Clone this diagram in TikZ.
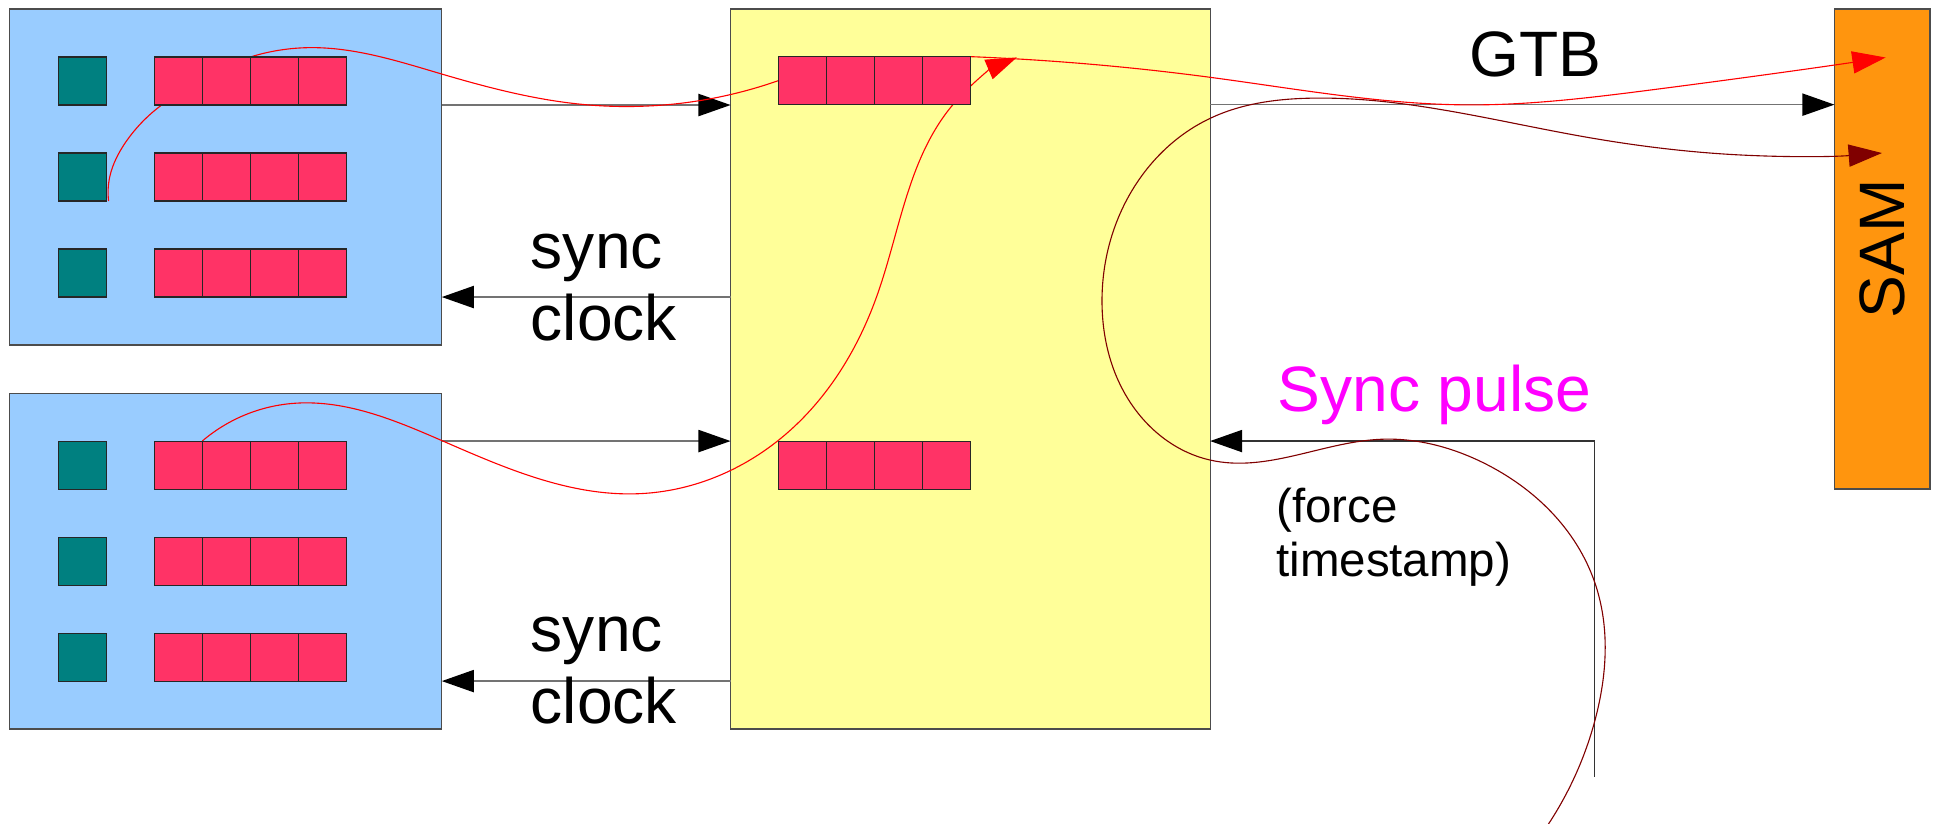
\documentclass[tikz,border=0pt]{standalone}
\usepackage{fontspec}
\setmainfont{Liberation Sans}
\usetikzlibrary{arrows.meta,hobby}
\definecolor{boxblue}{HTML}{99CCFF}
\definecolor{boxyellow}{HTML}{FFFF99}
\definecolor{tealc}{HTML}{008080}
\definecolor{cellred}{HTML}{FF3366}
\definecolor{samorange}{HTML}{FF950E}
\definecolor{darkredc}{HTML}{800000}
\definecolor{magentac}{HTML}{FF00FF}
\pgfdeclarelayer{bg}
\pgfdeclarelayer{mid}
\pgfsetlayers{bg,mid,main}
\begin{document}
\begin{tikzpicture}[x=1pt,y=-1pt,
  box/.style={draw=black!70,line width=1pt,inner sep=0pt,outer sep=0pt,anchor=north west},
  cellbox/.style={draw=black!85,fill=cellred,line width=0.9pt,minimum width=38.9pt,minimum height=38.9pt,inner sep=0pt,outer sep=0pt,anchor=north west},
  tealbox/.style={cellbox,fill=tealc},
  conn/.style={draw=black!55,line width=1.2pt,-{Triangle[length=26pt,width=18pt,black]}},
  flow/.style={red,line width=0.9pt,use Hobby shortcut},
  flowdark/.style={darkredc,line width=0.9pt,use Hobby shortcut},
  lbl/.style={font=\fontsize{52}{60}\selectfont,inner sep=0pt,anchor=base west},
  small/.style={font=\fontsize{38.5}{44}\selectfont,inner sep=0pt,anchor=base west}
]
\useasboundingbox (0,0) rectangle (1568,667);

% big boxes
\begin{pgfonlayer}{bg}
\node[box,fill=boxblue,minimum width=350.1pt,minimum height=272.3pt] (b1) at (7.9,7.3) {};
\node[box,fill=boxblue,minimum width=350.1pt,minimum height=272.2pt] (b2) at (7.9,318.6) {};
\node[box,fill=boxyellow,minimum width=388.6pt,minimum height=583.5pt] (yb) at (592,7.3) {};
\node[box,fill=samorange,minimum width=77.5pt,minimum height=389pt] (sam) at (1486.5,7.3) {};
\end{pgfonlayer}

% teal blocks and cell rows
\foreach \r/\y in {1/46.2,2/124,3/201.8}{
  \node[tealbox] (t1\r) at (47.1,\y) {};
  \foreach \k in {0,...,3}{
    \node[cellbox] (r1\r-\k) at ({125+38.9*\k},\y) {};
  }
}
\foreach \r/\y in {1/357.4,2/435.2,3/513}{
  \node[tealbox] (t2\r) at (47.1,\y) {};
  \foreach \k in {0,...,3}{
    \node[cellbox] (r2\r-\k) at ({125+38.9*\k},\y) {};
  }
}
\foreach \r/\y in {1/45.9,2/357.4}{
  \foreach \k in {0,...,3}{
    \node[cellbox] (yc\r-\k) at ({630.7+38.9*\k},\y) {};
  }
}

% labels
\node[lbl] (sync1) at (430,217.5) {sync};
\node[lbl] (clock1) at (430,275.6) {clock};
\node[lbl] (sync2) at (430,528) {sync};
\node[lbl] (clock2) at (430,586) {clock};
\node[lbl,anchor=base] (gtb) at (1244,62.2) {GTB};
\node[lbl,text=magentac] (spulse) at (1035,333.6) {Sync pulse};
\node[small] (force) at (1034,423.6) {(force};
\node[small] (tstamp) at (1034,467.3) {timestamp)};
\node[font=\fontsize{52}{60}\selectfont,inner sep=0pt,rotate=90] (samlbl) at (sam.center) {SAM};

% coordinates for free ends
\coordinate (spbot) at (1292,629.4);
\coordinate (tip2) at (1528,46.6);
\coordinate (tip3) at (824,46.5);
\coordinate (tip4) at (1525,124);
\coordinate (start4) at (1254.6,668);

\begin{pgfonlayer}{mid}
% black connectors
\draw[conn] (b1.east |- r11-0.south) -- (yb.west |- r11-0.south);
\draw[conn] (yb.west |- r13-0.south) -- (b1.east |- r13-0.south);
\draw[conn] (b2.east |- r21-0.north) -- (yb.west |- r21-0.north);
\draw[conn] (yb.west |- r23-0.south) -- (b2.east |- r23-0.south);
\draw[conn] (yb.east |- yc1-0.south) -- (sam.west |- yc1-0.south);
\draw[conn,draw=black!80] (spbot) |- (yb.east |- yc2-0.north);

% red flows
\draw[flow] (88,163) .. (89,143) .. (102,115) .. ([xshift=6pt]r11-0.south west);
\draw[flow] (r11-2.north west) .. (251,38.6) .. (358,60) .. (471,84.5) .. (yc1-0.west);
\draw[flow,-{Triangle[length=27pt,width=18pt]}] (yc1-3.north east) .. (981,62.7) .. (1190,85) .. (1337,73) .. (tip2);
\draw[flow,-{Triangle[length=25pt,width=17pt]}] (r21-1.north west) .. (236,327) .. (358,357) .. (519,400) .. (631,356.6) .. (710.5,240) .. (772,85) .. (tip3);
\draw[flowdark,-{Triangle[length=27pt,width=18pt]}] (start4) .. (1292.5,583.5) .. (1292.5,472.6) .. (1202,375) .. (1118,356) .. (980.6,372.8) .. (913,321.5) .. (893,246) .. (913,162) .. (980.6,95.9) .. (1065,79.5) .. (1283,110.7) .. (1400,125) .. (tip4);
\end{pgfonlayer}
\end{tikzpicture}
\end{document}
